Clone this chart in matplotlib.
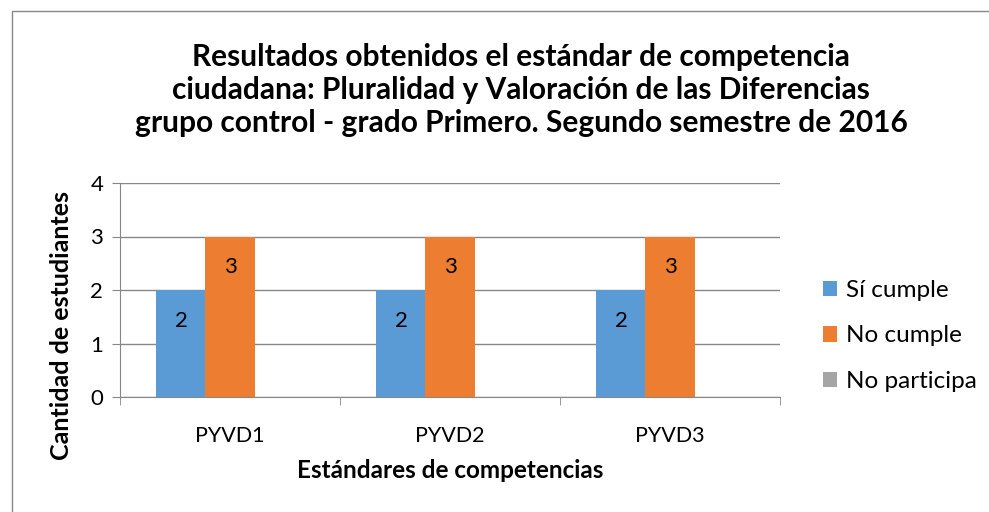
import numpy as np
import matplotlib.pyplot as plt
from matplotlib.patches import Rectangle

plt.rcParams['font.family'] = ['Lato', 'DejaVu Sans']

categories = ["PYVD1", "PYVD2", "PYVD3"]
series_names = ["Sí cumple", "No cumple", "No participa"]
si_cumple = [2, 2, 2]
no_cumple = [3, 3, 3]
no_participa = [0, 0, 0]
colors = ["#5b9bd5", "#ed7d31", "#a5a5a5"]

title = ("Resultados obtenidos el estándar de competencia\n"
         "ciudadana: Pluralidad y Valoración de las Diferencias\n"
         "grupo control - grado Primero. Segundo semestre de 2016")

fig = plt.figure(figsize=(9.89, 5.12), dpi=100)
ax = fig.add_axes([120/989, 1-397/512, 660/989, 214/512])

# outer chart frame
fig.patches.append(Rectangle((12/989, -0.05), 1.2, 1.05 - 11/512, transform=fig.transFigure,
                             fill=False, edgecolor="#888888", lw=1))

x = np.arange(len(categories))
w = 0.223
for i, (vals, name) in enumerate(zip([si_cumple, no_cumple, no_participa], series_names)):
    pos = x + (i - 1) * w
    bars = ax.bar(pos, vals, width=w, color=colors[i], label=name, zorder=3)
    if i < 2:
        for b, v in zip(bars, vals):
            ax.annotate(str(v), (b.get_x() + b.get_width()/2, v), xytext=(0, -22),
                        textcoords="offset points", ha="center", va="center",
                        fontsize=16, color="black", zorder=4)

ax.set_xlim(-0.5, 2.5)
ax.set_ylim(0, 4)
ax.set_yticks([0, 1, 2, 3, 4])
ax.yaxis.grid(True, color="#878787", lw=1, zorder=0)
ax.set_xticks(x)
ax.set_xticklabels(categories)
ax.set_xticks([-0.5, 0.5, 1.5, 2.5], minor=True)
ax.tick_params(axis="x", which="major", length=0, labelsize=15.5, pad=21)
ax.tick_params(axis="x", which="minor", length=6, color="#878787")
ax.tick_params(axis="y", length=6, color="#878787", labelsize=16, pad=6)
for s in ["top", "right"]:
    ax.spines[s].set_visible(False)
ax.spines["left"].set_color("#878787")
ax.spines["bottom"].set_color("#878787")

fig.text(521/989, 1-90/512, title, ha="center", va="center", fontsize=21.5,
         fontweight="bold", linespacing=1.21)
fig.text(450/989, 1-471/512, "Estándares de competencias", ha="center", va="center",
         fontsize=17.5, fontweight="bold")
fig.text(62/989, 1-325/512, "Cantidad de estudiantes", ha="center", va="center",
         fontsize=18, fontweight="bold", rotation=90)

ax.legend(loc="center left", bbox_to_anchor=(801/989, 1-336/512), bbox_transform=fig.transFigure,
          frameon=False, fontsize=17.5, handlelength=0.6, handleheight=0.6, handletextpad=0.35,
          labelspacing=1.0)

fig.savefig("out.png", dpi=100)
